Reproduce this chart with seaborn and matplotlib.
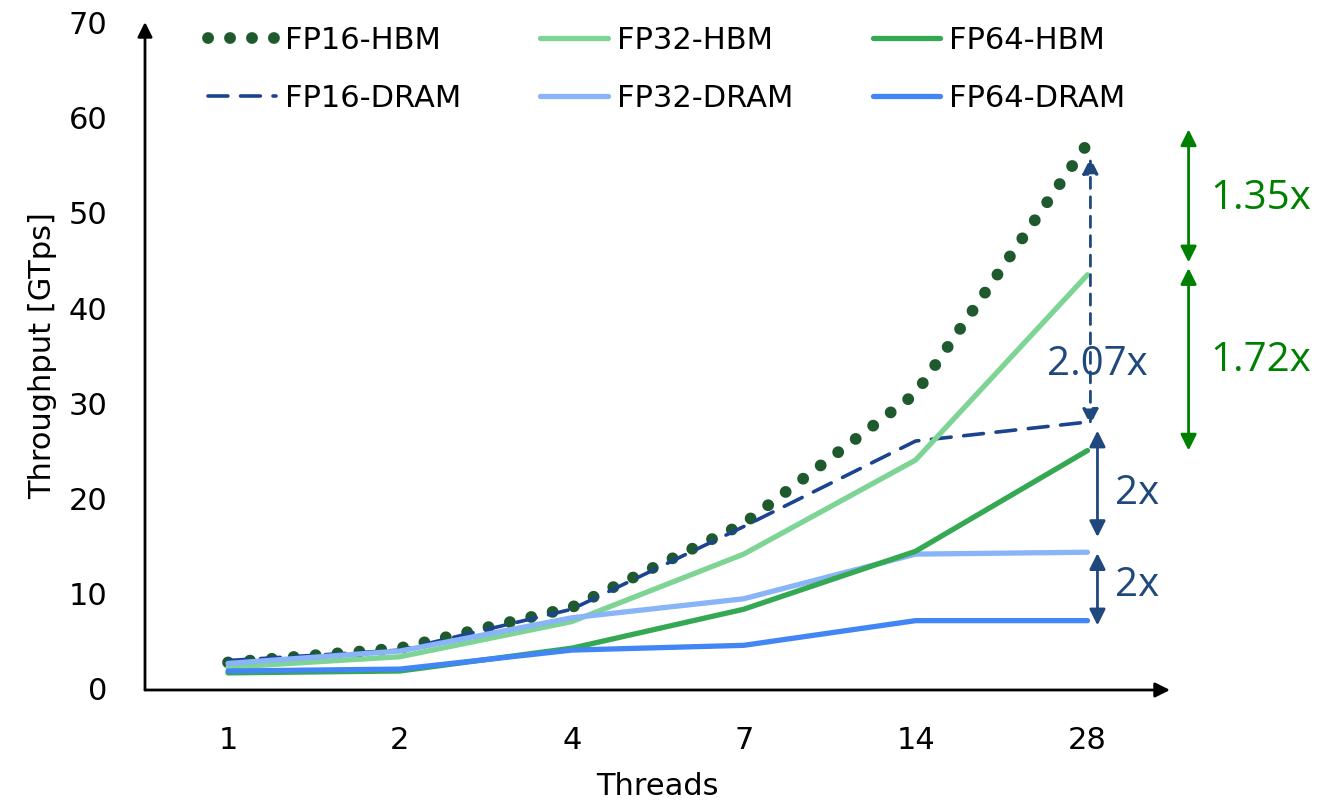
import matplotlib
matplotlib.use("Agg")
import matplotlib.pyplot as plt
import pandas as pd
import seaborn as sns

threads = ["1", "2", "4", "7", "14", "28"]
fp16_hbm = [2.7, 4.2, 8.5, 17.3, 31.0, 57.3]
fp32_hbm = [2.2, 3.3, 7.0, 14.1, 24.0, 43.5]
fp64_hbm = [1.6, 1.8, 4.2, 8.3, 14.4, 25.0]
fp16_dram = [2.9, 4.0, 8.3, 17.0, 26.0, 28.0]
fp32_dram = [2.6, 3.9, 7.4, 9.4, 14.1, 14.3]
fp64_dram = [1.8, 2.0, 4.0, 4.5, 7.1, 7.1]

sns.set_theme(style="white")
plt.rcParams["font.family"] = ["DejaVu Sans"]
plt.rcParams["text.color"] = "black"
plt.rcParams["axes.labelcolor"] = "black"
plt.rcParams["xtick.color"] = "black"
plt.rcParams["ytick.color"] = "black"

NAVY = "#1f497d"
GREEN = "#008000"

series = [
    ("FP16-HBM", fp16_hbm, "#1e5a2e", 8.5, (0, (0.01, 1.85))),
    ("FP16-DRAM", fp16_dram, "#1a4490", 2.6, (0, (5.5, 3.5))),
    ("FP32-HBM", fp32_hbm, "#7dd494", 3.8, "-"),
    ("FP32-DRAM", fp32_dram, "#8ab4f8", 3.8, "-"),
    ("FP64-HBM", fp64_hbm, "#34a853", 3.8, "-"),
    ("FP64-DRAM", fp64_dram, "#4285f4", 3.8, "-"),
]

fig = plt.figure(figsize=(13.35, 8.06), dpi=100)
ax = fig.add_axes([145 / 1335, 1 - 690 / 806, 1025 / 1335, 668 / 806])

for name, vals, color, lw, ls in series:
    df = pd.DataFrame({"x": range(len(threads)), "y": vals})
    sns.lineplot(data=df, x="x", y="y", ax=ax, color=color, linewidth=lw,
                 label=name, zorder=3)
    line = ax.get_lines()[-1]
    line.set_linestyle(ls)
    line.set_dash_capstyle("round")
    line.set_solid_capstyle("round")

ax.set_xlim(-0.483, 5.48)
ax.set_ylim(-0.2, 70.1)
ax.set_xticks(range(len(threads)))
ax.set_xticklabels(threads)
ax.set_yticks(range(0, 71, 10))
ax.tick_params(axis="both", labelsize=22, length=0)
ax.tick_params(axis="x", pad=26)
ax.tick_params(axis="y", pad=27)
ax.set_xlabel("Threads", fontsize=22, labelpad=12)
ax.set_ylabel("Throughput [GTps]", fontsize=22, labelpad=8)
for s in ax.spines.values():
    s.set_visible(False)

# axis arrows
ax.annotate("", xy=(0, 1.0), xytext=(0, 0), xycoords="axes fraction",
            arrowprops=dict(arrowstyle="-|>", color="black", lw=2,
                            mutation_scale=22, shrinkA=0, shrinkB=0),
            annotation_clip=False)
ax.annotate("", xy=(1.0, 0), xytext=(0, 0), xycoords="axes fraction",
            arrowprops=dict(arrowstyle="-|>", color="black", lw=2,
                            mutation_scale=22, shrinkA=0, shrinkB=0),
            annotation_clip=False)

leg = ax.legend(ncol=3, loc="upper left", bbox_to_anchor=(0.035, 1.035),
                frameon=False, fontsize=22, handlelength=2.2,
                handletextpad=0.3, columnspacing=2.6, labelspacing=0.95)
for t in leg.get_texts():
    t.set_color("black")


def double_arrow(x, y0, y1, color, ls="-"):
    ax.annotate("", xy=(x, y1), xytext=(x, y0),
                arrowprops=dict(arrowstyle="<|-|>", color=color, lw=2,
                                linestyle=ls, mutation_scale=24,
                                shrinkA=0, shrinkB=0),
                annotation_clip=False)


double_arrow(5.017, 27.7, 55.8, NAVY, ls=(0, (4, 3)))
double_arrow(5.058, 15.9, 27.1, NAVY)
double_arrow(5.058, 6.6, 14.2, NAVY)
double_arrow(5.588, 44.8, 58.8, GREEN)
double_arrow(5.588, 25.0, 44.2, GREEN)

afont = ["Open Sans", "DejaVu Sans"]
ax.text(5.06, 34.0, "2.07x", color=NAVY, fontsize=29, ha="center",
        va="center", family=afont)
ax.text(5.16, 20.5, "2x", color=NAVY, fontsize=29, ha="left",
        va="center", family=afont)
ax.text(5.16, 10.8, "2x", color=NAVY, fontsize=29, ha="left",
        va="center", family=afont)
ax.text(6.01, 51.5, "1.35x", color=GREEN, fontsize=29, ha="center",
        va="center", family=afont, clip_on=False)
ax.text(6.01, 34.5, "1.72x", color=GREEN, fontsize=29, ha="center",
        va="center", family=afont, clip_on=False)

fig.savefig("out.png", dpi=100)
plt.close(fig)
